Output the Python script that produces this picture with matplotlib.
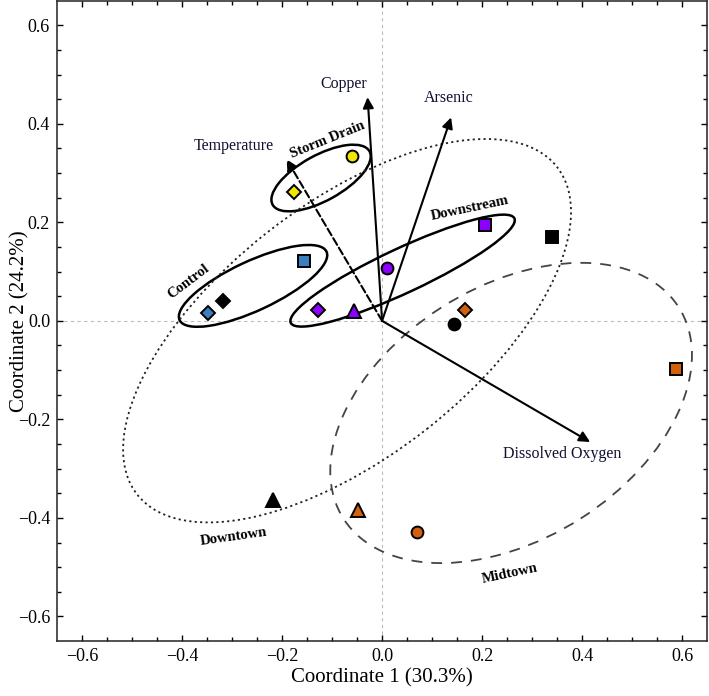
import matplotlib
matplotlib.use("Agg")
import matplotlib.pyplot as plt
from matplotlib.patches import Ellipse

plt.rcParams["font.family"] = ["Liberation Serif", "DejaVu Serif"]

# sample scores
pt_x = [-0.061, -0.177, -0.157, -0.319, -0.349, -0.129, -0.056, 0.009,
        0.205, 0.339, 0.165, 0.144, 0.587, 0.069, -0.219, -0.049]
pt_y = [0.334, 0.261, 0.121, 0.040, 0.016, 0.023, 0.019, 0.107,
        0.195, 0.171, 0.023, -0.007, -0.098, -0.428, -0.363, -0.384]
pt_color = ["yellow", "yellow", "blue", "black", "blue", "purple", "purple", "purple",
            "purple", "black", "orange", "black", "orange", "orange", "black", "orange"]
pt_marker = ["o", "D", "s", "D", "D", "D", "^", "o",
             "s", "s", "D", "o", "s", "o", "^", "^"]

colors = {"yellow": "#f2e600", "blue": "#3c7fc0", "purple": "#8b00ff",
          "orange": "#d2600e", "black": "black"}
sizes = {"o": 8.5, "s": 8.0, "D": 7.0, "^": 9.5}

# variable vectors
vec_names = ["Copper", "Arsenic", "Dissolved Oxygen", "Temperature"]
vec_x = [-0.029, 0.138, 0.416, -0.191]
vec_y = [0.454, 0.413, -0.246, 0.328]
vec_lab_x = [-0.076, 0.133, 0.361, -0.297]
vec_lab_y = [0.480, 0.453, -0.271, 0.356]
vec_style = ["-", "-", "-", "--"]

# group ellipses: center, width, height, angle
grp_names = ["Storm Drain", "Control", "Downstream", "Downtown", "Midtown"]
grp_cx = [-0.122, -0.258, 0.041, -0.070, 0.258]
grp_cy = [0.290, 0.071, 0.102, -0.020, -0.187]
grp_w = [0.222, 0.325, 0.495, 1.071, 0.796]
grp_h = [0.092, 0.100, 0.090, 0.511, 0.511]
grp_ang = [29.4, 25.4, 25.4, 38.6, 33.0]
grp_ls = ["-", "-", "-", (0, (1.2, 1.8)), (0, (6, 5))]
grp_lw = [1.8, 1.8, 1.8, 1.3, 1.3]
grp_ec = ["black", "black", "black", "#222222", "#444444"]
lab_x = [-0.109, -0.387, 0.175, -0.296, 0.256]
lab_y = [0.368, 0.079, 0.228, -0.439, -0.513]
lab_rot = [22, 37, 12, 8, 12]

fig = plt.figure(figsize=(7.09, 6.96), dpi=100)
ax = fig.add_axes([0.0804, 0.079, 0.917, 0.920])

ax.axhline(0, color="#bbbbbb", lw=0.8, ls=(0, (3, 3)), zorder=0)
ax.axvline(0, color="#bbbbbb", lw=0.8, ls=(0, (3, 3)), zorder=0)

for i in range(len(grp_names)):
    e = Ellipse((grp_cx[i], grp_cy[i]), grp_w[i], grp_h[i], angle=grp_ang[i],
                fill=False, ec=grp_ec[i], lw=grp_lw[i], ls=grp_ls[i], zorder=2)
    ax.add_patch(e)
    ax.text(lab_x[i], lab_y[i], grp_names[i], rotation=lab_rot[i], fontsize=10.5,
            fontweight="bold", ha="center", va="center", rotation_mode="anchor")

for i in range(len(vec_names)):
    ax.annotate("", xy=(vec_x[i], vec_y[i]), xytext=(0, 0),
                arrowprops=dict(arrowstyle="-|>", lw=1.5, ls=vec_style[i], color="black",
                                mutation_scale=16, shrinkA=0, shrinkB=0), zorder=3)
    ax.text(vec_lab_x[i], vec_lab_y[i], vec_names[i], fontsize=11.5,
            ha="center", va="center", color="#101030")

for x, y, c, m in zip(pt_x, pt_y, pt_color, pt_marker):
    ax.plot(x, y, marker=m, ms=sizes[m], mfc=colors[c], mec="black", mew=1.4,
            ls="none", zorder=4)

ax.set_xlim(-0.65, 0.65)
ax.set_ylim(-0.65, 0.65)
ticks = [-0.6, -0.4, -0.2, 0.0, 0.2, 0.4, 0.6]
ax.set_xticks(ticks)
ax.set_yticks(ticks)
ax.set_xticklabels([f"{t:.1f}".replace("-", "\u2212") for t in ticks])
ax.set_yticklabels([f"{t:.1f}".replace("-", "\u2212") for t in ticks])
ax.set_xticks([i * 0.05 for i in range(-12, 13)], minor=True)
ax.set_yticks([i * 0.05 for i in range(-12, 13)], minor=True)
ax.tick_params(which="both", direction="in", top=True, right=True, labelsize=13)
ax.tick_params(which="major", length=4.5, width=1, pad=5)
ax.tick_params(which="minor", length=3, width=1)
for s in ax.spines.values():
    s.set_linewidth(1.1)
    s.set_color("#222222")

ax.set_xlabel("Coordinate 1 (30.3%)", fontsize=15)
ax.set_ylabel("Coordinate 2 (24.2%)", fontsize=15)
ax.xaxis.set_label_coords(0.5, -0.043)
ax.yaxis.set_label_coords(-0.043, 0.5)

fig.savefig("out.png", dpi=100)
